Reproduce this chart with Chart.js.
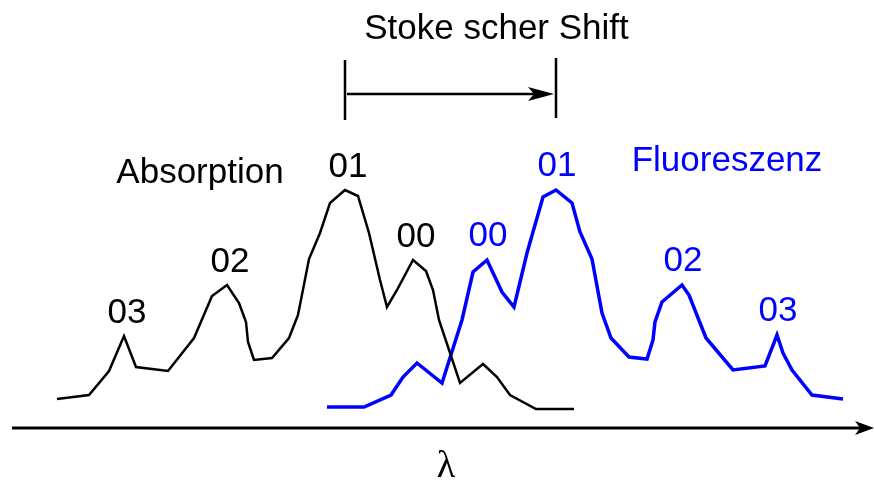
<!DOCTYPE html>
<html>
<head>
<meta charset="utf-8">
<script src="https://cdn.jsdelivr.net/npm/chart.js@4"></script>
<style>
  html, body { margin: 0; padding: 0; background: #fff; }
  #wrap { width: 874px; height: 481px; }
</style>
</head>
<body>
<div id="wrap"><canvas id="spectrum" width="874" height="481"></canvas></div>
<script>
// wavelength (arbitrary units) and intensity
const absX = [57, 89, 109, 124, 136, 168, 194, 212, 227, 239, 246, 248, 254, 272, 289, 298, 309, 320, 330, 345,
              358, 369, 380, 387, 397, 413, 426, 433, 439, 460, 483, 497, 510, 536, 574];
const absY = [31, 35, 59, 94, 63, 59, 92, 134, 145, 127, 108, 88, 70, 72, 92, 115, 171, 197, 227, 240,
              234, 197, 150, 123, 140, 170, 159, 140, 110, 47, 66, 53, 35, 21, 21];

const fluX = [327, 364, 391, 403, 417, 442, 462, 473, 487, 502, 514, 527, 543, 556, 572, 580, 592, 602, 611, 629,
              647, 653, 655, 662, 682, 689, 706, 733, 765, 777, 783, 792, 812, 843];
const fluY = [23, 23, 35, 53, 67, 47, 110, 158, 170, 138, 123, 177, 233, 240, 227, 198, 171, 117, 92, 73,
              71, 90, 108, 128, 145, 135, 92, 60, 64, 95, 77, 60, 35, 31];

// vibronic transitions: label + index of its peak in the series
const absPeakLabels = ["03", "02", "01", "00"];
const absPeakIdx = [3, 8, 19, 25];
const fluPeakLabels = ["00", "01", "02", "03"];
const fluPeakIdx = [8, 13, 24, 29];

const toPts = (xs, ys) => xs.map((x, i) => ({ x: x, y: ys[i] }));

const FONT = "35px 'Liberation Sans', Arial, sans-serif";

const annotations = {
  id: "annotations",
  afterDatasetsDraw(chart) {
    const ctx = chart.ctx;
    const xs = chart.scales.x, ys = chart.scales.y;
    const px = v => xs.getPixelForValue(v);
    const py = v => ys.getPixelForValue(v);

    ctx.save();
    ctx.font = FONT;
    ctx.textAlign = "center";
    ctx.textBaseline = "alphabetic";

    // peak labels
    absPeakLabels.forEach((t, i) => {
      const k = absPeakIdx[i];
      ctx.fillStyle = "#000";
      ctx.fillText(t, px(absX[k]) + 3, py(absY[k]) - 13);
    });
    fluPeakLabels.forEach((t, i) => {
      const k = fluPeakIdx[i];
      ctx.fillStyle = "#0000ff";
      ctx.fillText(t, px(fluX[k]) + 1, py(fluY[k]) - 14);
    });

    // series names
    ctx.fillStyle = "#000";
    ctx.fillText("Absorption", px(200), py(247));
    ctx.fillStyle = "#0000ff";
    ctx.fillText("Fluoreszenz", px(727), py(259));

    // Stokes shift bracket between the two 0-1 maxima
    const xa = px(absX[absPeakIdx[2]]), xf = px(fluX[fluPeakIdx[1]]);
    const yTop = py(370), yBot = py(310), yMid = py(336);
    ctx.strokeStyle = "#000";
    ctx.fillStyle = "#000";
    ctx.lineWidth = 2.5;
    ctx.beginPath();
    ctx.moveTo(xa, yTop); ctx.lineTo(xa, yBot);
    ctx.moveTo(xf, yTop - 2); ctx.lineTo(xf, yBot - 2);
    ctx.moveTo(xa + 2, yMid); ctx.lineTo(xf - 14, yMid);
    ctx.stroke();
    ctx.beginPath();
    ctx.moveTo(xf - 2, yMid);
    ctx.lineTo(xf - 28, yMid - 7);
    ctx.lineTo(xf - 22, yMid);
    ctx.lineTo(xf - 28, yMid + 7);
    ctx.closePath();
    ctx.fill();
    ctx.fillText("Stoke scher Shift", (xa + xf) / 2 + 46, py(391));

    // wavelength axis arrow
    const yAx = py(2);
    ctx.lineWidth = 3;
    ctx.beginPath();
    ctx.moveTo(px(12), yAx); ctx.lineTo(px(860), yAx);
    ctx.stroke();
    ctx.beginPath();
    ctx.moveTo(px(874), yAx);
    ctx.lineTo(px(855), yAx - 7);
    ctx.lineTo(px(860), yAx);
    ctx.lineTo(px(855), yAx + 7);
    ctx.closePath();
    ctx.fill();
    ctx.font = "38px 'Liberation Serif', 'Times New Roman', serif";
    ctx.fillText("λ", px(446), py(-47));
    ctx.restore();
  }
};

new Chart(document.getElementById("spectrum"), {
  type: "scatter",
  data: {
    datasets: [
      {
        label: "Absorption",
        data: toPts(absX, absY),
        showLine: true,
        borderColor: "#000",
        borderWidth: 2.5,
        pointRadius: 0,
        tension: 0,
        fill: false
      },
      {
        label: "Fluoreszenz",
        data: toPts(fluX, fluY),
        showLine: true,
        borderColor: "#0000ff",
        borderWidth: 3.5,
        pointRadius: 0,
        tension: 0,
        fill: false
      }
    ]
  },
  options: {
    responsive: false,
    animation: false,
    layout: { padding: 0 },
    plugins: { legend: { display: false }, tooltip: { enabled: false } },
    scales: {
      x: { type: "linear", min: 0, max: 874, display: false },
      y: { type: "linear", min: -51, max: 430, display: false }
    }
  },
  plugins: [annotations]
});
</script>
</body>
</html>
